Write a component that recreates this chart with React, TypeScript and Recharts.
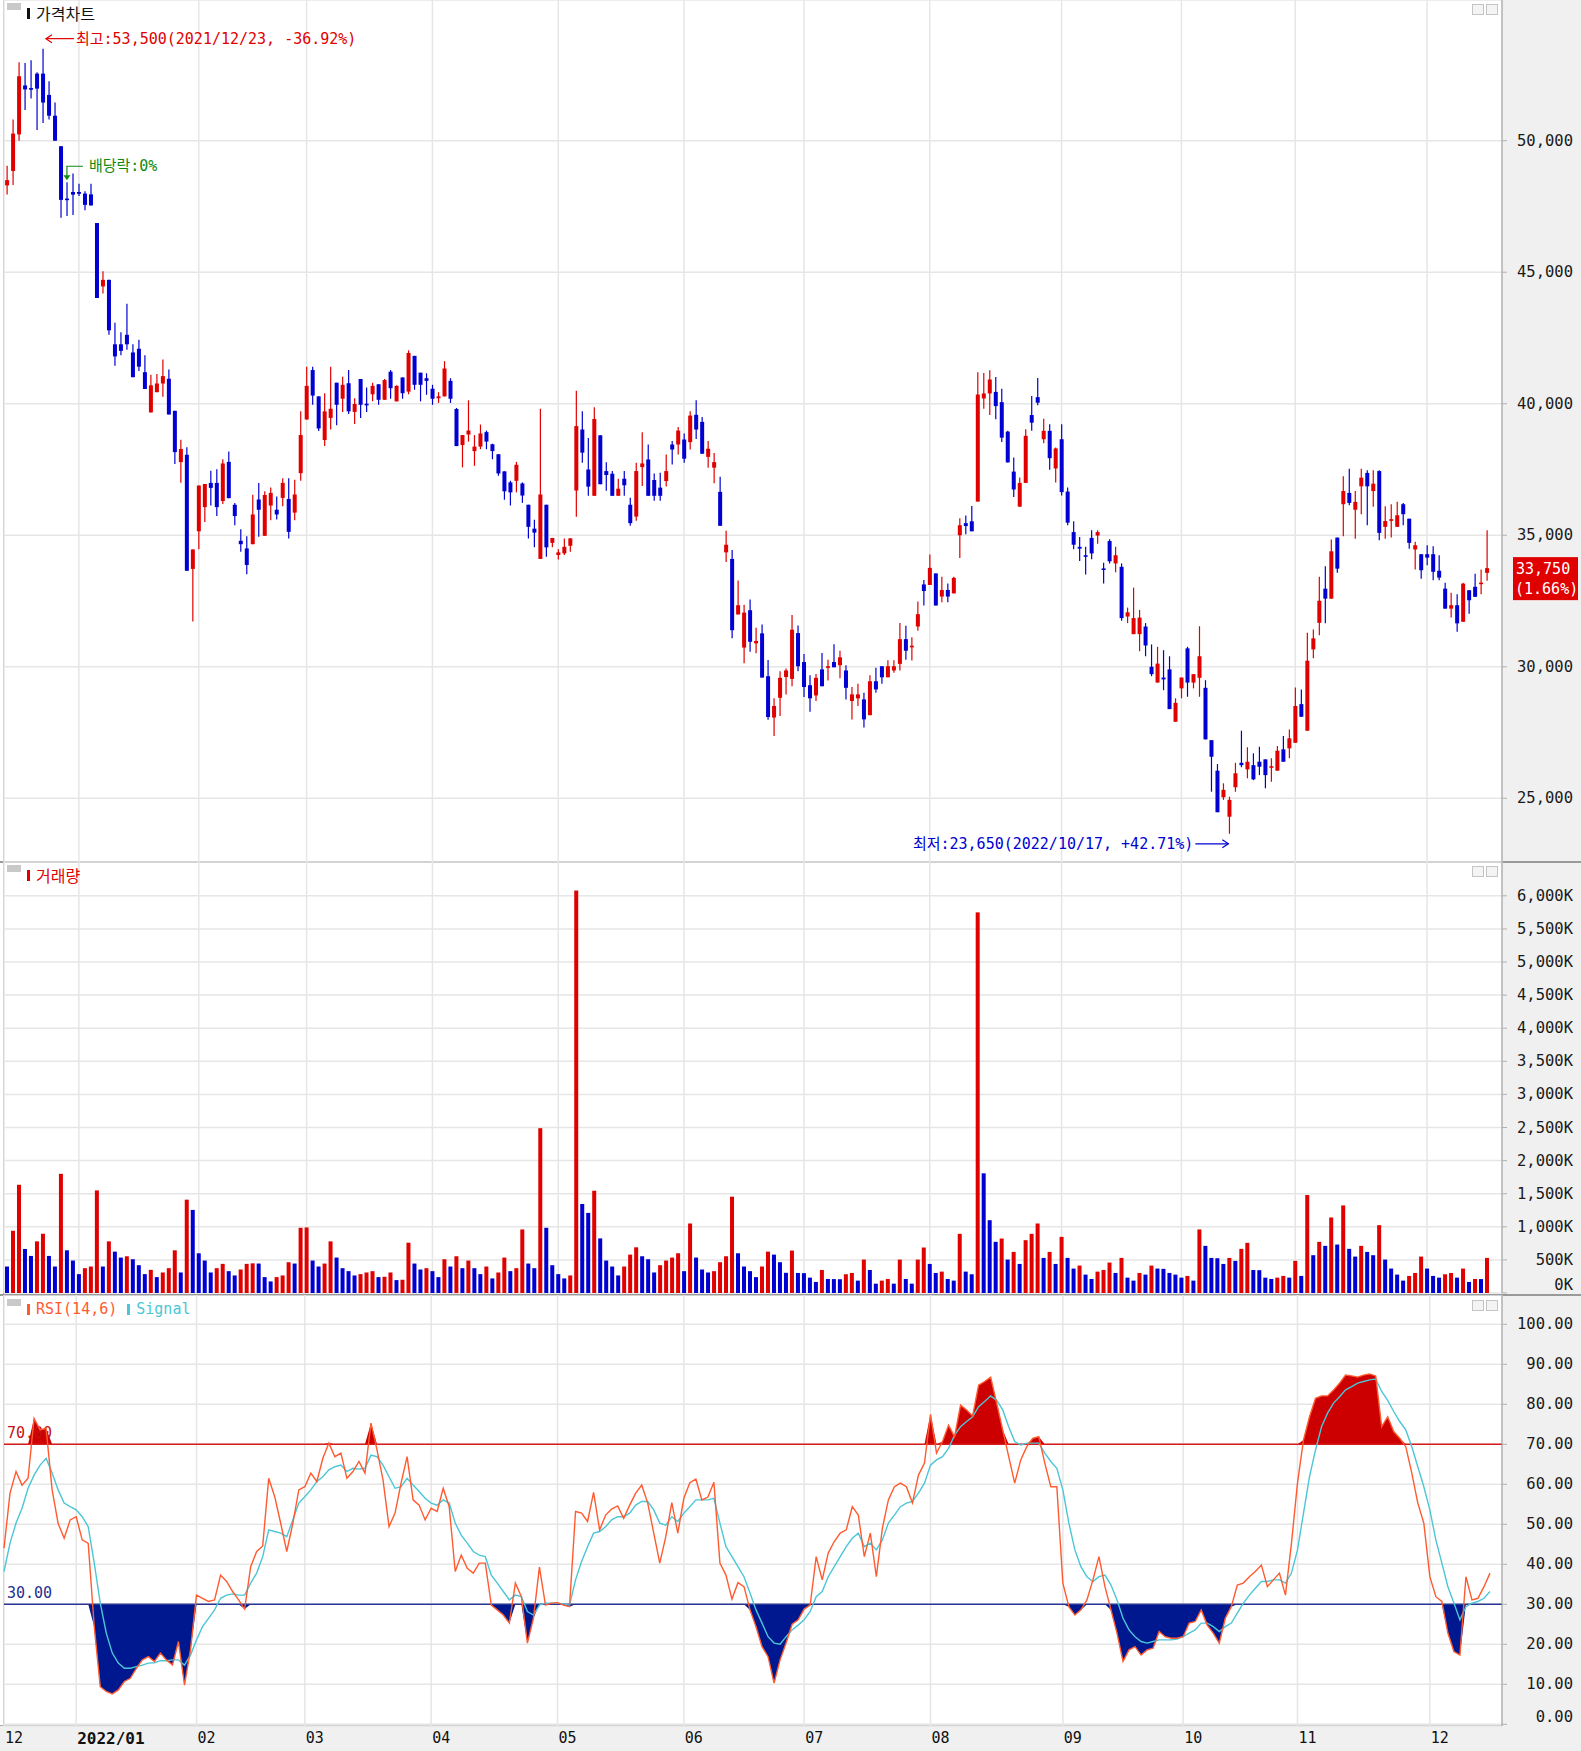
import React from "react";
import {
  ComposedChart,
  Bar,
  Line,
  Area,
  XAxis,
  YAxis,
  CartesianGrid,
  ReferenceLine,
  ReferenceDot,
} from "recharts";

// month tick labels and the candle index where each month starts
const MONTH_LABELS = ["12", "2022/01", "02", "03", "04", "05", "06", "07", "08", "09", "10", "11", "12"];
const MONTH_START = [0, 12, 32, 50, 71, 92, 113, 133, 154, 176, 196, 215, 237];

const OPEN = [
  48300, 48850, 50240, 52100, 52000, 52550, 52550, 51740, 50950, 49790,
  47800, 48050, 48050, 47990, 47960, 46870, 44460, 44710, 42260, 42260,
  42620, 41950, 42090, 41200, 39670, 40440, 40770, 40950, 39730, 37780,
  38060, 33720, 35150, 36070, 36990, 36990, 36300, 37790, 36160, 34790,
  34500, 34660, 36360, 34980, 36130, 35970, 36420, 36380, 35860, 37360,
  39400, 41280, 40280, 38620, 39460, 40800, 40190, 40780, 39690, 40940,
  40000, 40360, 40740, 40150, 41220, 40090, 41000, 40460, 41820, 41180,
  40970, 40570, 40210, 40280, 40870, 39800, 38430, 38830, 38200, 38370,
  38920, 38460, 38080, 37430, 37010, 37070, 36970, 36160, 35250, 34100,
  36160, 34710, 34250, 34310, 34600, 36700, 39020, 37500, 36500, 38800,
  37440, 37340, 36500, 37150, 36160, 35710, 37590, 37880, 37100, 36810,
  37060, 38450, 38450, 38640, 38540, 39580, 39310, 37980, 37570, 36650,
  34350, 34100, 31990, 30730, 32150, 30890, 31270, 29640, 28070, 28820,
  29610, 29540, 31280, 30180, 29300, 28910, 29900, 29960, 30180, 30060,
  29860, 28700, 28800, 28760, 28160, 29450, 30020, 29600, 29860, 30110,
  31050, 30770, 31530, 33130, 33110, 33550, 32670, 32920, 32790, 35000,
  35460, 35530, 36280, 40200, 40390, 40450, 40060, 38940, 37420, 36090,
  36990, 39570, 40250, 38650, 38970, 37540, 38650, 36660, 35120, 34560,
  34240, 34900, 34990, 33740, 34780, 33930, 33800, 31910, 31240, 31240,
  31530, 30000, 29400, 29590, 29900, 27910, 29180, 30700, 29400, 29580,
  29200, 27210, 26050, 25040, 24300, 25420, 26350, 26100, 26260, 26390,
  26480, 26170, 26050, 26860, 26900, 27110, 28580, 27570, 30660, 31670,
  32970, 32590, 34910, 36180, 36610, 35970, 36860, 37370, 36680, 37440,
  35320, 35570, 35320, 36180, 35630, 34460, 34280, 34280, 34280, 33650,
  32970, 32210, 32340, 31710, 32910, 33040, 33150, 33570,
];

const HIGH = [
  49050, 50810, 52980, 52950, 53060, 52600, 53500, 52260, 51450, 49790,
  48420, 48750, 48360, 48080, 48360, 46870, 45040, 44710, 43080, 42720,
  43800, 42260, 42430, 41840, 41100, 41130, 41680, 41300, 39730, 38630,
  38350, 34460, 36890, 36950, 37450, 37510, 37890, 38180, 36230, 35230,
  34960, 36540, 36990, 36670, 36820, 36470, 37170, 37170, 37110, 39710,
  41410, 41410, 40280, 40400, 41410, 40800, 41030, 41280, 40210, 40940,
  40620, 40800, 40740, 40940, 41280, 40700, 41000, 42030, 41820, 41180,
  41160, 40720, 40440, 41620, 40970, 39840, 38810, 40130, 38810, 39210,
  38980, 38480, 38080, 37430, 37070, 37790, 37010, 36160, 35590, 39810,
  36160, 34900, 34470, 34880, 34900, 40490, 39710, 38700, 39870, 38800,
  37780, 37440, 37150, 37440, 36430, 37760, 38920, 38450, 37350, 37380,
  38070, 38580, 39120, 38870, 39710, 40130, 39500, 38580, 38130, 37220,
  35170, 34440, 33280, 32360, 32560, 31480, 31610, 30260, 28800, 29830,
  29930, 31970, 31570, 30490, 29680, 29730, 30520, 30270, 30860, 30610,
  30060, 29230, 29350, 29010, 29680, 29960, 30020, 30250, 30250, 31660,
  31560, 31120, 32480, 33300, 34270, 33550, 33420, 33170, 33420, 35650,
  35750, 36110, 41200, 41170, 41270, 41020, 40570, 38970, 37960, 37200,
  39030, 40290, 40980, 39430, 39220, 38340, 39220, 36820, 35530, 34930,
  34560, 35190, 35190, 33950, 34850, 34560, 33930, 32250, 33010, 32160,
  31660, 30850, 30760, 30630, 30400, 28800, 29590, 30760, 29720, 31540,
  29490, 27210, 26300, 25570, 25060, 26350, 27570, 26940, 26710, 26960,
  26480, 26520, 26990, 27370, 27620, 29210, 29140, 31290, 31420, 33420,
  33820, 34840, 34910, 37240, 37530, 36680, 37530, 37470, 37470, 37470,
  36100, 36180, 36270, 36230, 35630, 34750, 34280, 34620, 34580, 34240,
  33190, 32810, 32760, 33190, 32910, 33540, 33700, 35190,
];

const LOW = [
  47950, 48320, 50000, 51170, 51600, 50410, 50670, 50810, 50000, 47070,
  47140, 47180, 47900, 47360, 47540, 44020, 44190, 42620, 41440, 41840,
  42050, 41010, 41240, 40560, 39670, 40440, 40270, 39590, 37710, 37000,
  33650, 31720, 34470, 35500, 36130, 35730, 36190, 36410, 35380, 34370,
  33520, 34660, 34940, 34980, 35570, 35600, 36100, 34880, 35570, 37070,
  39400, 39960, 38960, 38390, 39020, 39180, 39690, 39610, 39230, 39460,
  39690, 40090, 39960, 40150, 40190, 40090, 40190, 40360, 40530, 40090,
  40340, 39960, 40030, 40280, 40030, 38390, 37580, 38560, 37640, 38270,
  38270, 37890, 37260, 36350, 36130, 36630, 36230, 34880, 34540, 34100,
  34180, 34540, 34080, 34250, 34370, 35700, 37760, 36500, 36500, 36940,
  36690, 36500, 36500, 36500, 35360, 35550, 36870, 36500, 36310, 36310,
  36850, 37690, 38070, 37760, 38260, 38660, 38100, 37570, 36980, 35360,
  33980, 31080, 31990, 30130, 30570, 30510, 29590, 27990, 27370, 28130,
  28950, 29260, 29830, 28850, 28290, 28700, 29260, 29480, 29980, 29560,
  28760, 28000, 28510, 27690, 28160, 29010, 29350, 29600, 29770, 29860,
  30270, 30240, 31370, 32330, 33110, 32330, 32450, 32450, 32790, 34140,
  35040, 35150, 36280, 39810, 39570, 39410, 38550, 37770, 36450, 36070,
  36990, 38970, 39940, 38500, 37490, 37010, 36510, 35380, 34470, 34020,
  33510, 34090, 34680, 33170, 33930, 33590, 31750, 31660, 31240, 30590,
  30400, 29640, 29400, 29110, 28390, 27910, 28800, 28860, 29180, 28860,
  27240, 25250, 24470, 24940, 23650, 25250, 26180, 25760, 25690, 25880,
  25380, 25630, 26050, 26390, 26520, 27110, 28100, 27570, 30320, 31200,
  31650, 32590, 33570, 34960, 36140, 34870, 35800, 35380, 36080, 34810,
  34870, 34910, 35320, 35380, 34490, 33700, 33350, 33860, 33290, 33290,
  32210, 31870, 31330, 31710, 32020, 32660, 32760, 33270,
];

const CLOSE = [
  48500, 50270, 52450, 51950, 51950, 51980, 51450, 50950, 50000, 47750,
  47750, 47950, 47980, 47560, 47540, 44020, 44710, 42790, 41800, 42010,
  42260, 41010, 41410, 40560, 40700, 40770, 41050, 39590, 38160, 38280,
  33650, 34460, 36890, 36950, 36800, 36070, 37730, 36410, 35730, 34660,
  33870, 35790, 35970, 36530, 36610, 35790, 36990, 35130, 36550, 38810,
  40680, 40310, 39060, 39710, 39810, 39960, 40720, 39710, 39990, 39960,
  39960, 40680, 40150, 40900, 40590, 40680, 40400, 41930, 40720, 40720,
  40870, 40190, 40280, 41340, 40190, 38390, 38810, 38980, 38370, 38870,
  38560, 38200, 37350, 36670, 36630, 37680, 36510, 35320, 35100, 36550,
  34540, 34900, 34350, 34560, 34880, 39150, 38140, 36850, 39420, 36940,
  37290, 36500, 36770, 36900, 35460, 37440, 37730, 36500, 36500, 36500,
  37440, 38260, 38980, 37910, 39550, 39020, 38100, 38290, 37780, 35360,
  34640, 31390, 32340, 32060, 30950, 30980, 29590, 28090, 28510, 29580,
  29860, 31410, 30020, 29230, 28800, 29580, 29260, 30020, 29980, 30360,
  29200, 28950, 28950, 28000, 29450, 29140, 29600, 30020, 30020, 31050,
  30610, 30800, 32000, 32880, 33760, 32330, 32920, 32670, 33380, 35380,
  35350, 35150, 40350, 40390, 40920, 39910, 38710, 37770, 36740, 36990,
  38780, 39280, 40040, 38970, 37930, 38300, 36640, 35480, 34640, 34490,
  34200, 34310, 35120, 33700, 34010, 34240, 31850, 32070, 31850, 31870,
  30810, 29720, 30120, 29520, 28390, 28630, 29590, 29400, 29720, 30400,
  27240, 26580, 24470, 25320, 24940, 25950, 26260, 26390, 25720, 26200,
  25880, 26220, 26810, 26390, 27280, 28510, 28100, 30230, 31080, 32510,
  32590, 34390, 33730, 36680, 36230, 36270, 37190, 36860, 36960, 35090,
  35540, 35610, 35760, 35800, 34710, 34620, 33670, 34150, 33610, 33390,
  32210, 32340, 31650, 33160, 32530, 32660, 33200, 33750,
];

// volume in thousands of shares
const VOLUME = [
  400, 940, 1635, 665, 560, 780, 895, 560, 400, 1800,
  645, 490, 285, 375, 400, 1550, 400, 780, 625, 535,
  555, 510, 420, 285, 350, 240, 310, 375, 645, 310,
  1410, 1255, 600, 490, 310, 375, 440, 330, 265, 355,
  440, 448, 445, 240, 175, 240, 265, 465, 445, 985,
  990, 490, 400, 445, 780, 535, 375, 330, 265, 285,
  310, 330, 240, 245, 310, 195, 200, 760, 445, 355,
  375, 330, 240, 510, 400, 555, 375, 490, 375, 285,
  400, 220, 310, 535, 330, 375, 960, 445, 375, 2490,
  985, 420, 285, 220, 265, 6080, 1345, 1210, 1545, 825,
  490, 400, 265, 400, 580, 690, 555, 510, 310, 420,
  490, 535, 600, 330, 1050, 535, 355, 310, 330, 465,
  555, 1455, 600, 400, 330, 240, 400, 625, 580, 465,
  305, 641, 303, 300, 232, 167, 348, 212, 210, 208,
  283, 303, 187, 505, 348, 141, 187, 212, 141, 505,
  212, 141, 505, 687, 439, 303, 323, 212, 187, 894,
  323, 283, 5750, 1808, 1100, 773, 823, 505, 621, 439,
  798, 894, 1050, 530, 621, 439, 848, 530, 369, 414,
  278, 212, 323, 348, 460, 303, 530, 232, 187, 303,
  278, 414, 369, 365, 303, 278, 232, 258, 187, 960,
  712, 530, 525, 439, 530, 485, 667, 758, 348, 345,
  232, 212, 232, 258, 232, 485, 258, 1480, 571, 773,
  712, 1141, 732, 1323, 667, 550, 712, 621, 571, 1025,
  505, 369, 278, 187, 258, 303, 550, 369, 258, 232,
  283, 303, 232, 369, 167, 212, 210, 530,
];

const RSI = [
  44.0, 57.8, 63.2, 59.8, 61.5, 76.5, 73.6, 74.0, 58.6, 50.2,
  46.5, 51.1, 51.9, 46.1, 45.2, 24.4, 9.4, 8.2, 7.6, 8.6,
  10.7, 11.5, 14.0, 16.1, 16.9, 15.7, 17.8, 16.1, 14.8, 20.7,
  9.8, 18.6, 32.3, 31.5, 30.7, 31.1, 37.3, 35.7, 33.2, 31.1,
  28.8, 39.4, 43.2, 44.6, 61.5, 56.9, 50.2, 43.2, 50.2, 58.6,
  59.4, 62.8, 60.7, 66.5, 70.3, 66.9, 67.8, 61.5, 63.2, 65.7,
  62.8, 75.3, 68.6, 61.1, 49.4, 52.8, 60.3, 66.9, 56.1, 54.8,
  51.1, 54.0, 53.2, 59.0, 54.4, 38.2, 42.3, 39.0, 37.8, 40.3,
  40.3, 29.8, 28.6, 27.3, 25.3, 35.3, 31.9, 20.3, 26.5, 39.3,
  29.8, 30.3, 30.4, 29.8, 29.4, 53.2, 52.8, 50.7, 58.0, 48.6,
  52.3, 53.8, 54.6, 51.5, 54.8, 57.8, 59.8, 55.3, 47.8, 40.3,
  46.9, 55.4, 47.8, 56.5, 60.4, 61.3, 56.1, 56.8, 60.5, 40.3,
  37.3, 31.3, 35.4, 34.4, 28.6, 24.4, 19.4, 16.9, 10.3, 16.1,
  20.3, 25.0, 26.1, 28.8, 29.8, 41.9, 36.1, 42.8, 45.7, 47.8,
  48.6, 54.4, 52.3, 41.9, 47.8, 36.9, 49.0, 56.1, 59.4, 60.3,
  59.4, 55.3, 62.3, 65.3, 77.5, 67.8, 70.7, 74.8, 71.9, 79.8,
  78.6, 77.1, 84.8, 85.7, 86.8, 80.3, 73.6, 66.9, 60.3, 66.1,
  69.4, 71.5, 71.9, 65.3, 59.4, 59.4, 35.3, 29.4, 27.3, 28.6,
  31.1, 36.1, 41.9, 34.4, 28.6, 22.8, 15.7, 18.6, 19.4, 17.3,
  18.6, 19.0, 23.2, 21.9, 21.5, 21.5, 21.9, 25.3, 25.7, 28.6,
  24.8, 22.8, 20.3, 26.5, 29.4, 34.8, 35.3, 36.9, 38.2, 39.8,
  34.4, 36.1, 37.8, 32.3, 45.3, 60.3, 71.1, 76.9, 81.5, 82.1,
  82.1, 83.6, 85.3, 87.3, 87.1, 86.8, 87.3, 87.6, 87.1, 74.4,
  76.9, 73.2, 71.5, 69.4, 62.8, 55.3, 50.3, 36.9, 31.9, 30.7,
  22.8, 18.2, 17.3, 36.9, 31.1, 31.5, 34.4, 37.8,
];

const SIGNAL = [
  38.2, 45.3, 50.3, 54.0, 59.0, 62.3, 64.8, 66.5, 62.8, 58.6,
  55.3, 54.4, 53.6, 51.9, 49.4, 40.3, 30.3, 22.8, 17.8, 15.3,
  14.0, 14.0, 14.4, 14.8, 15.3, 15.4, 15.9, 15.9, 16.1, 16.1,
  14.8, 17.3, 21.1, 24.4, 26.5, 28.6, 31.5, 32.3, 32.6, 32.3,
  32.3, 35.3, 37.8, 41.9, 48.6, 48.2, 47.8, 46.9, 51.1, 55.3,
  56.9, 58.6, 60.7, 61.9, 63.6, 64.4, 64.8, 63.2, 64.0, 63.8,
  64.0, 67.3, 66.9, 64.8, 61.9, 59.0, 59.4, 61.5, 59.8, 58.2,
  56.5, 55.3, 54.8, 56.1, 55.3, 50.3, 47.3, 45.3, 43.2, 42.3,
  41.9, 37.3, 35.3, 33.2, 31.1, 32.3, 31.9, 28.2, 27.3, 29.8,
  30.3, 30.3, 30.3, 30.1, 29.8, 36.1, 40.7, 44.4, 47.8, 48.2,
  49.4, 51.1, 51.9, 51.9, 52.8, 54.8, 55.7, 55.7, 53.6, 50.3,
  49.8, 51.9, 50.7, 52.8, 54.4, 56.1, 56.1, 56.1, 56.5, 50.3,
  44.4, 41.9, 39.4, 36.9, 32.8, 28.6, 25.3, 21.9, 20.3, 20.0,
  21.9, 23.6, 24.8, 26.1, 28.2, 31.9, 33.2, 36.9, 39.4, 41.9,
  44.4, 46.5, 47.8, 44.4, 45.3, 43.6, 46.1, 50.3, 52.3, 54.4,
  55.3, 55.7, 57.8, 60.3, 64.8, 66.1, 66.9, 69.0, 72.3, 74.4,
  75.7, 76.9, 79.4, 80.7, 82.1, 81.0, 78.6, 74.4, 70.7, 69.8,
  70.3, 70.3, 70.3, 67.8, 65.7, 64.0, 58.6, 50.3, 43.6, 39.4,
  36.9, 35.7, 36.9, 37.3, 34.8, 31.1, 26.5, 23.6, 21.9, 20.7,
  20.3, 20.7, 21.1, 21.1, 21.1, 21.3, 21.9, 22.8, 23.6, 25.3,
  25.3, 24.4, 23.2, 24.4, 25.3, 27.8, 30.3, 32.3, 34.0, 35.7,
  35.7, 36.1, 36.1, 35.3, 37.8, 43.6, 52.8, 61.9, 68.6, 74.4,
  77.8, 80.3, 81.9, 83.6, 84.4, 85.3, 85.7, 86.1, 86.3, 83.2,
  81.0, 78.2, 75.7, 73.6, 69.4, 64.4, 59.4, 53.6, 46.1, 40.3,
  34.4, 30.3, 26.1, 29.4, 30.3, 30.7, 31.5, 33.2,
];

const PRICE_TICKS = [25000, 30000, 35000, 40000, 45000, 50000];
const VOL_TICKS = [0, 500, 1000, 1500, 2000, 2500, 3000, 3500, 4000, 4500, 5000, 5500, 6000];
const RSI_TICKS = [0, 10, 20, 30, 40, 50, 60, 70, 80, 90, 100];
const HIGH_DATE = "2021/12/23";
const LOW_DATE = "2022/10/17";

const RED = "#e00000";
const BLUE = "#0000d2";
const GREEN = "#118a11";
const GRID = "#e6e6e6";
const MONO = "'DejaVu Sans Mono', 'Noto Sans CJK KR', monospace";
const KR = "'Noto Sans CJK KR', sans-serif";
const W = 1581;
const LEFT = 4;
const AXIS_W = 79;
const TICK_X = 1573;
const PAD = { left: 0, right: 12 };
const GRID_TICKS = MONTH_START.slice(1);

const rows = OPEN.map((o, i) => ({
  i,
  o,
  h: HIGH[i],
  l: LOW[i],
  c: CLOSE[i],
  range: [LOW[i], HIGH[i]],
  v: VOLUME[i],
  up: i > 0 && VOLUME[i] > VOLUME[i - 1],
  rsi: RSI[i],
  sig: SIGNAL[i],
  over: [70, Math.max(70, RSI[i])],
  under: [Math.min(30, RSI[i]), 30],
}));

const maxHigh = Math.max(...HIGH);
const minLow = Math.min(...LOW);
const maxIdx = HIGH.indexOf(maxHigh);
const minIdx = LOW.indexOf(minLow);
const last = CLOSE[CLOSE.length - 1];
const prev = CLOSE[CLOSE.length - 2];
const fmt = (v: number) => v.toLocaleString("en-US");

function Candle(props: any) {
  const { x, y, width, height, payload } = props;
  const { o, h, l, c } = payload;
  const top = Math.min(y, y + height);
  const span = Math.abs(height);
  const k = h === l ? 0 : span / (h - l);
  const cx = x + width / 2;
  const yo = top + (h - o) * k;
  const yc = top + (h - c) * k;
  const color = c >= o ? RED : BLUE;
  const bt = Math.min(yo, yc);
  const bh = Math.max(1.6, Math.abs(yo - yc));
  return (
    <g>
      <line x1={cx} x2={cx} y1={top} y2={top + span} stroke={color} strokeWidth={1.2} />
      <rect x={cx - 2} y={bt} width={4} height={bh} fill={color} />
    </g>
  );
}

function VolBar(props: any) {
  const { x, y, width, height, payload } = props;
  return <rect x={x} y={y} width={width} height={Math.max(0, height)} fill={payload.up ? RED : BLUE} />;
}

function RightTick(props: any) {
  const { y, payload, format, shiftZero } = props;
  const dy = payload.value === 0 ? shiftZero : 0;
  return (
    <text x={TICK_X} y={y + dy} textAnchor="end" dominantBaseline="central" fontFamily={MONO} fontSize={15.5} fill="#1a1a1a">
      {format(payload.value)}
    </text>
  );
}

function MonthTick(props: any) {
  const { x, y, payload } = props;
  const k = MONTH_START.indexOf(payload.value);
  return (
    <text x={x + 1} y={y + 12} dominantBaseline="central" fontFamily={MONO} fontSize={k === 1 ? 16 : 15} fontWeight={k === 1 ? 700 : 400} fill="#111">
      {MONTH_LABELS[k]}
    </text>
  );
}

function center(viewBox: any) {
  return { x: viewBox.x + viewBox.width / 2, y: viewBox.y + viewBox.height / 2 };
}

function MaxNote(props: any) {
  const { x, y: cy } = center(props.viewBox);
  const y = cy - 10;
  const pct = ((last / maxHigh - 1) * 100).toFixed(2);
  return (
    <g>
      <line x1={x + 3} y1={y} x2={x + 31} y2={y} stroke={RED} strokeWidth={1.2} />
      <polyline points={`${x + 9},${y - 4} ${x + 3},${y} ${x + 9},${y + 4}`} fill="none" stroke={RED} strokeWidth={1.2} />
      <text x={x + 33} y={y} dominantBaseline="central" fontFamily={MONO} fontSize={15} fill={RED}>
        {`최고:${fmt(maxHigh)}(${HIGH_DATE}, ${pct}%)`}
      </text>
    </g>
  );
}

function MinNote(props: any) {
  const { x, y: cy } = center(props.viewBox);
  const y = cy + 10;
  const pct = ((last / minLow - 1) * 100).toFixed(2);
  return (
    <g>
      <line x1={x - 34} y1={y} x2={x - 1} y2={y} stroke={BLUE} strokeWidth={1.2} />
      <polyline points={`${x - 7},${y - 4} ${x - 1},${y} ${x - 7},${y + 4}`} fill="none" stroke={BLUE} strokeWidth={1.2} />
      <text x={x - 36} y={y} textAnchor="end" dominantBaseline="central" fontFamily={MONO} fontSize={15} fill={BLUE}>
        {`최저:${fmt(minLow)}(${LOW_DATE}, +${pct}%)`}
      </text>
    </g>
  );
}

function DivNote(props: any) {
  const { x, y } = center(props.viewBox);
  return (
    <g>
      <polyline points={`${x},${y - 5} ${x},${y - 16} ${x + 16},${y - 16}`} fill="none" stroke={GREEN} strokeWidth={1.2} />
      <polygon points={`${x - 3.5},${y - 7} ${x + 3.5},${y - 7} ${x},${y - 2}`} fill={GREEN} />
      <text x={x + 22} y={y - 16} dominantBaseline="central" fontFamily={MONO} fontSize={15} fill={GREEN}>
        배당락:0%
      </text>
    </g>
  );
}

function LastBox(props: any) {
  const vb = props.viewBox;
  const x = vb.x + vb.width + 11;
  const y = vb.y;
  const pct = ((last / prev - 1) * 100).toFixed(2);
  return (
    <g>
      <rect x={x} y={y - 11} width={65} height={43} fill={RED} />
      <text x={x + 3} y={y + 1} dominantBaseline="central" fontFamily={MONO} fontSize={15} fill="#fff">
        {fmt(last)}
      </text>
      <text x={x + 2} y={y + 21} dominantBaseline="central" fontFamily={MONO} fontSize={15} fill="#fff">
        {`(${pct}%)`}
      </text>
    </g>
  );
}

function LevelLabel(props: any) {
  const vb = props.viewBox;
  return (
    <text x={vb.x + 3} y={vb.y - 11} dominantBaseline="central" fontFamily={MONO} fontSize={15} fill={props.color}>
      {props.text}
    </text>
  );
}

function Head({ top, children }: { top: number; children: React.ReactNode }) {
  return (
    <>
      <div style={{ position: "absolute", left: 7, top: top + 3, width: 14, height: 7, background: "#c9c9c9" }} />
      <div style={{ position: "absolute", left: 1472, top: top + 4, width: 10, height: 9, border: "1px solid #c4c4c4", background: "#f4f4f4" }} />
      <div style={{ position: "absolute", left: 1486, top: top + 4, width: 10, height: 9, border: "1px solid #c4c4c4", background: "#f4f4f4" }} />
      <div style={{ position: "absolute", left: 27, top: top + 3, height: 20, display: "flex", alignItems: "center", whiteSpace: "nowrap" }}>
        {children}
      </div>
    </>
  );
}

const mark = (color: string) => (
  <span style={{ display: "inline-block", width: 3, height: 11, background: color, marginRight: 6 }} />
);

export default function App() {
  return (
    <div style={{ position: "absolute", left: 0, top: 0, width: W, height: 1751, background: "#fff", overflow: "hidden" }}>
      <div style={{ position: "absolute", left: 1502, top: 0, width: 79, height: 1751, background: "#f0f0f0" }} />
      <div style={{ position: "absolute", left: 0, top: 1726, width: W, height: 25, background: "#f0f0f0" }} />
      <div style={{ position: "absolute", left: 3, top: 0, width: 1, height: 1726, background: "#a8a8a8" }} />
      <div style={{ position: "absolute", left: 0, top: 861, width: W, height: 2, background: "#9a9a9a" }} />
      <div style={{ position: "absolute", left: 0, top: 1294, width: W, height: 2, background: "#9a9a9a" }} />
      <div style={{ position: "absolute", left: 0, top: 1725, width: 1503, height: 1, background: "#a8a8a8" }} />

      <div style={{ position: "absolute", left: 0, top: 0 }}>
        <ComposedChart width={W} height={862} data={rows} margin={{ top: 0, right: 0, bottom: 0, left: LEFT }}>
          <CartesianGrid stroke={GRID} strokeWidth={1.5} />
          <XAxis dataKey="i" type="category" hide padding={PAD} ticks={GRID_TICKS} />
          <YAxis
            orientation="right"
            width={AXIS_W}
            domain={[22578, 55349]}
            allowDataOverflow
            ticks={PRICE_TICKS}
            interval={0}
            axisLine={{ stroke: "#9a9a9a" }}
            tickLine={{ stroke: "#b0b0b0" }}
            tickSize={5}
            tick={(p: any) => <RightTick {...p} format={fmt} shiftZero={0} />}
          />
          <Bar dataKey="range" isAnimationActive={false} shape={(p: any) => <Candle {...p} />} />
          <ReferenceDot x={maxIdx} y={maxHigh} r={1} fill="none" stroke="none" label={<MaxNote />} />
          <ReferenceDot x={minIdx} y={minLow} r={1} fill="none" stroke="none" label={<MinNote />} />
          <ReferenceDot x={10} y={HIGH[10]} r={1} fill="none" stroke="none" label={<DivNote />} />
          <ReferenceLine y={last} stroke="none" label={<LastBox />} />
        </ComposedChart>
      </div>

      <div style={{ position: "absolute", left: 0, top: 862 }}>
        <ComposedChart width={W} height={433} data={rows} margin={{ top: 0, right: 0, bottom: 2, left: LEFT }}>
          <CartesianGrid stroke={GRID} strokeWidth={1.5} />
          <XAxis dataKey="i" type="category" hide padding={PAD} ticks={GRID_TICKS} />
          <YAxis
            orientation="right"
            width={AXIS_W}
            domain={[0, 6511]}
            allowDataOverflow
            ticks={VOL_TICKS}
            interval={0}
            axisLine={{ stroke: "#9a9a9a" }}
            tickLine={{ stroke: "#b0b0b0" }}
            tickSize={5}
            tick={(p: any) => <RightTick {...p} format={(v: number) => `${fmt(v)}K`} shiftZero={-8} />}
          />
          <Bar dataKey="v" barSize={4} isAnimationActive={false} shape={(p: any) => <VolBar {...p} />} />
        </ComposedChart>
      </div>

      <div style={{ position: "absolute", left: 0, top: 1295 }}>
        <ComposedChart width={W} height={456} data={rows} margin={{ top: 0, right: 0, bottom: 0, left: LEFT }}>
          <CartesianGrid xAxisId="g" stroke={GRID} strokeWidth={1.5} />
          <XAxis xAxisId="g" dataKey="i" type="category" hide padding={PAD} ticks={GRID_TICKS} />
          <XAxis
            dataKey="i"
            type="category"
            padding={PAD}
            height={25}
            ticks={MONTH_START}
            interval={0}
            axisLine={false}
            tickLine={false}
            tickSize={0}
            tickMargin={0}
            tick={(p: any) => <MonthTick {...p} />}
          />
          <YAxis
            orientation="right"
            width={AXIS_W}
            domain={[-0.43, 107.33]}
            allowDataOverflow
            ticks={RSI_TICKS}
            interval={0}
            axisLine={{ stroke: "#9a9a9a" }}
            tickLine={{ stroke: "#b0b0b0" }}
            tickSize={5}
            tick={(p: any) => <RightTick {...p} format={(v: number) => v.toFixed(2)} shiftZero={-7} />}
          />
          <Area type="linear" dataKey="over" stroke="none" fill="#cc0000" fillOpacity={1} isAnimationActive={false} dot={false} activeDot={false} />
          <Area type="linear" dataKey="under" stroke="none" fill="#00188f" fillOpacity={1} isAnimationActive={false} dot={false} activeDot={false} />
          <ReferenceLine y={70} stroke="#d81b1b" strokeWidth={1.6} label={<LevelLabel text="70.00" color="#c41010" />} />
          <ReferenceLine y={30} stroke="#283593" strokeWidth={1.6} label={<LevelLabel text="30.00" color="#1f2f8f" />} />
          <Line type="linear" dataKey="sig" stroke="#4cc6d6" strokeWidth={1.4} dot={false} activeDot={false} isAnimationActive={false} />
          <Line type="linear" dataKey="rsi" stroke="#ff5a30" strokeWidth={1.4} dot={false} activeDot={false} isAnimationActive={false} />
        </ComposedChart>
      </div>

      <Head top={0}>
        {mark("#111")}
        <span style={{ fontFamily: KR, fontSize: 16, color: "#111" }}>가격차트</span>
      </Head>
      <Head top={862}>
        {mark(RED)}
        <span style={{ fontFamily: KR, fontSize: 16, color: RED }}>거래량</span>
      </Head>
      <Head top={1296}>
        {mark("#ff5a30")}
        <span style={{ fontFamily: MONO, fontSize: 15, color: "#ff5a30", marginRight: 10 }}>RSI(14,6)</span>
        {mark("#4cc6d6")}
        <span style={{ fontFamily: MONO, fontSize: 15, color: "#4cc6d6" }}>Signal</span>
      </Head>
    </div>
  );
}
